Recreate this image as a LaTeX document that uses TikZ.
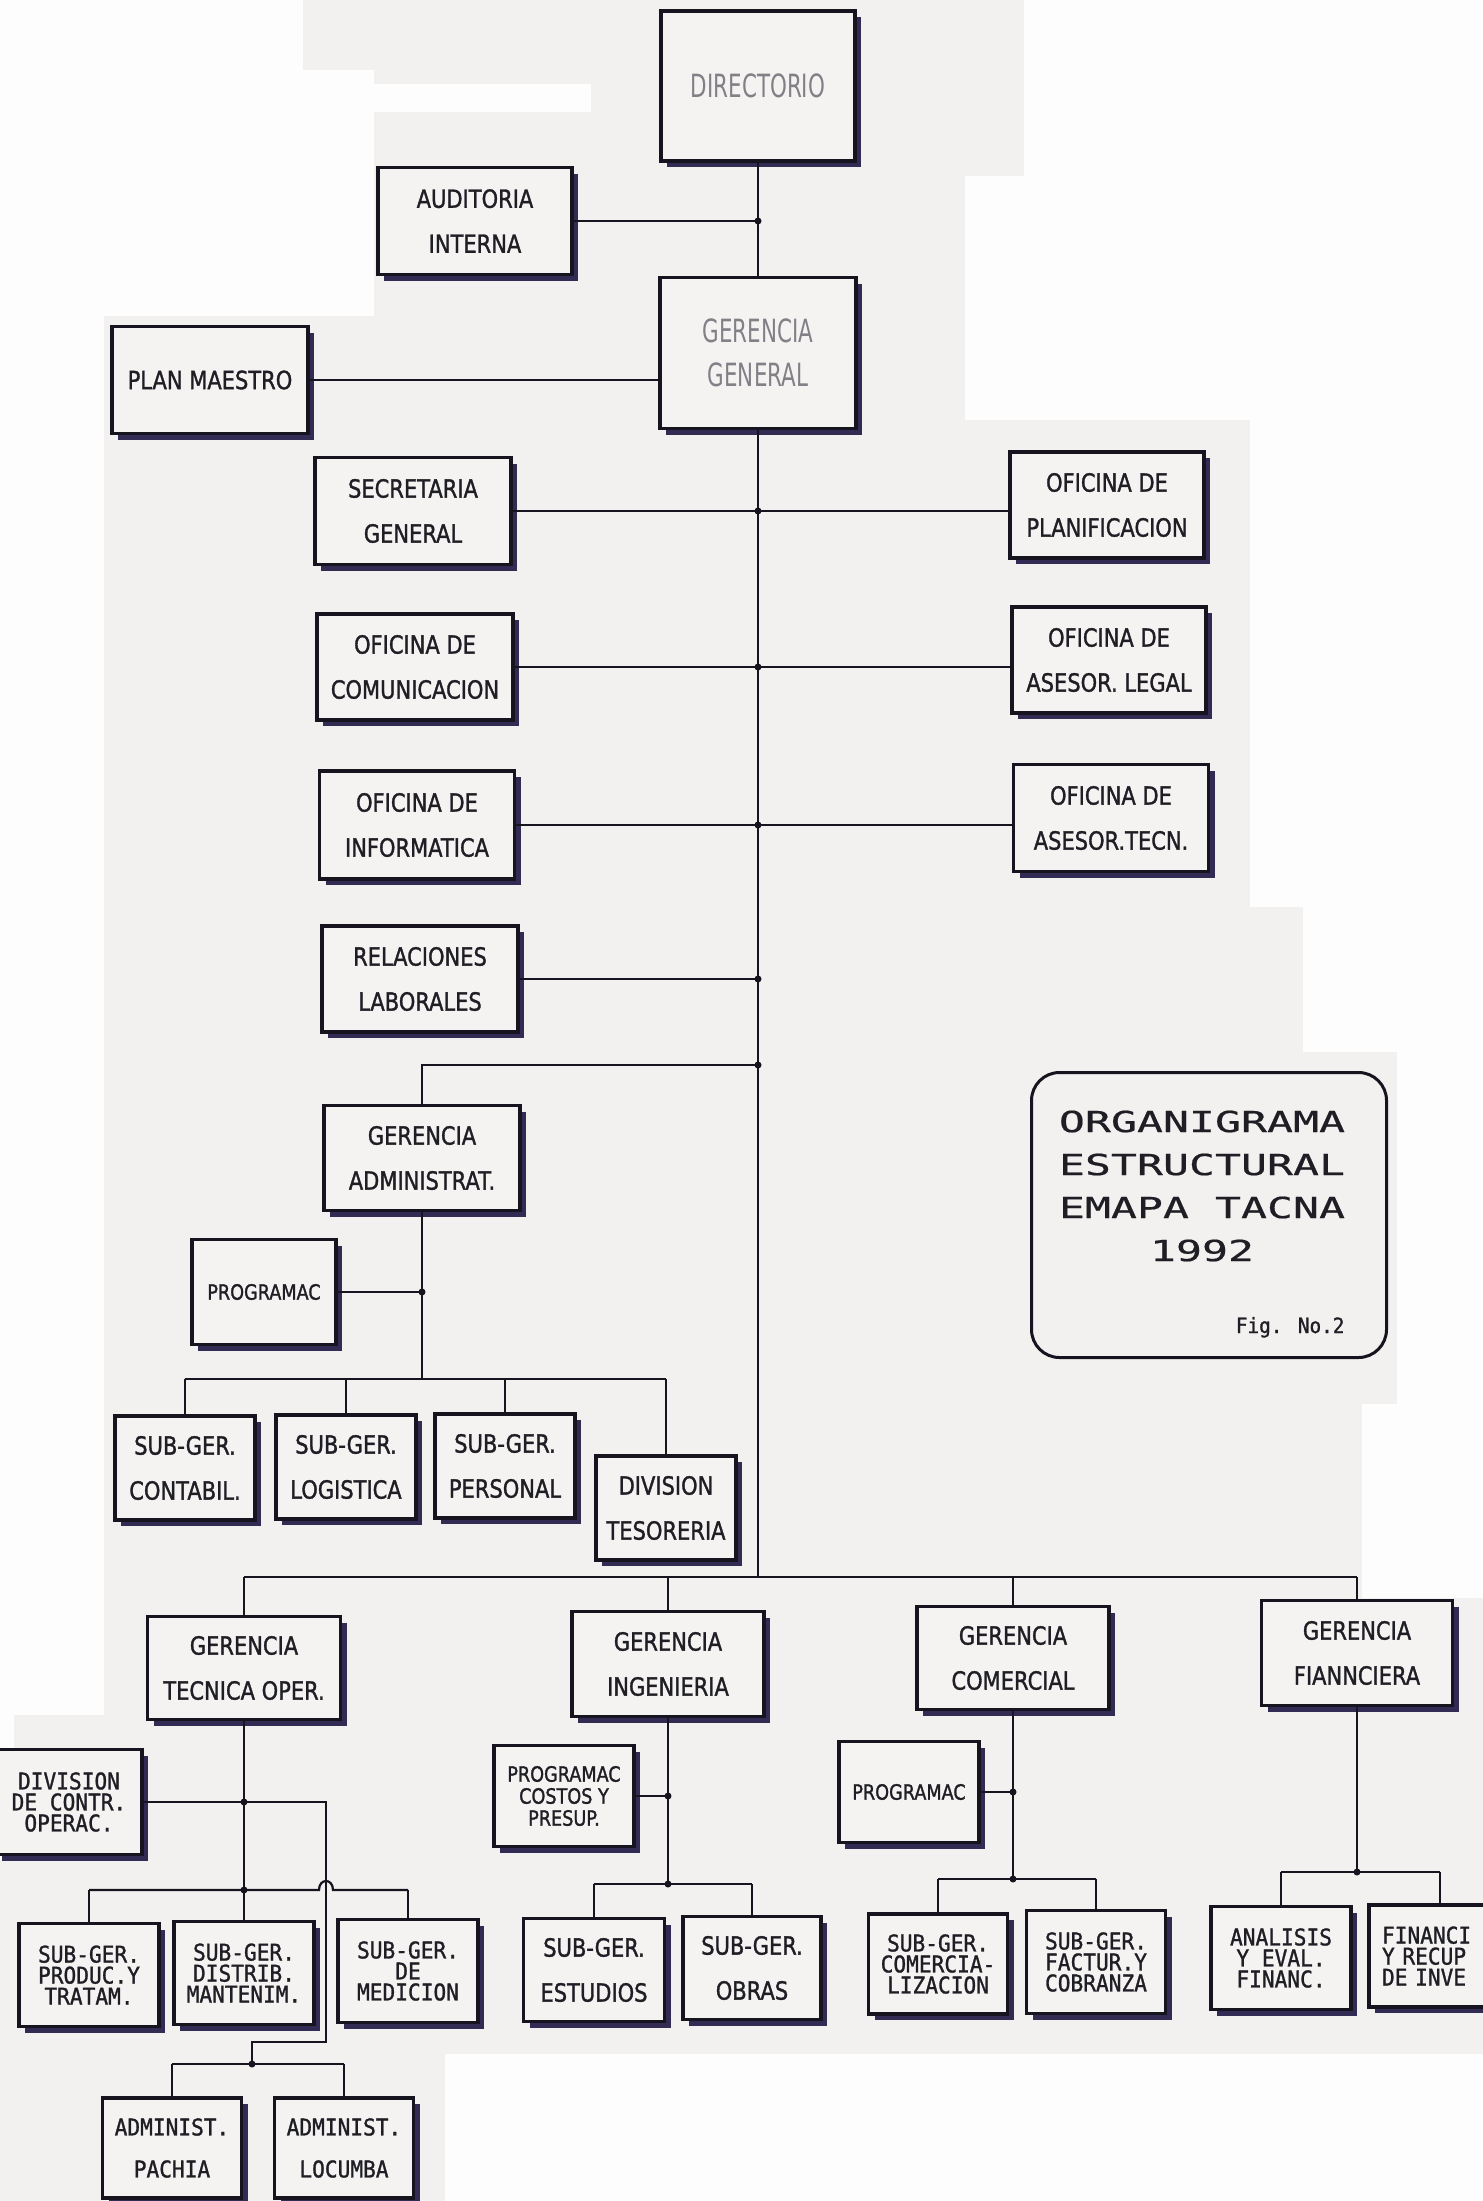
\documentclass[tikz,border=0pt]{standalone}
\usepackage{fontspec}
\setmainfont{DejaVu Sans}
\newfontfamily\cf[FakeStretch=0.84,FakeBold=1.3]{DejaVu Sans}
\newfontfamily\lf[FakeStretch=0.67]{DejaVu Sans}
\newfontfamily\mf[FakeStretch=0.92,FakeBold=1.2]{DejaVu Sans Mono}
\newfontfamily\tf[FakeStretch=1.49,FakeBold=0.6]{DejaVu Sans Mono}
\usetikzlibrary{shadows}
\definecolor{paper}{RGB}{243,241,239}
\definecolor{whitep}{RGB}{253,253,253}
\definecolor{boxfill}{RGB}{245,243,242}
\definecolor{ink}{RGB}{22,20,30}
\definecolor{shade}{RGB}{50,44,84}
\definecolor{txt}{RGB}{30,30,36}
\definecolor{thin}{RGB}{128,128,134}
\begin{document}
\begin{tikzpicture}[x=1pt,y=-1pt,
  box/.style={draw=ink,line width=3.5pt,fill=boxfill,inner sep=0pt,align=center,text=txt,
    drop shadow={shadow xshift=6pt,shadow yshift=-6pt,fill=shade,opacity=1}},
  wh/.style 2 args={minimum width=#1pt,minimum height=#2pt},
  sans/.style={font=\fontsize{25}{45}\selectfont\cf},
  thinf/.style={font=\fontsize{32}{44}\selectfont\lf,text=thin},
  mono/.style={font=\fontsize{23}{21}\selectfont\mf},
  monow/.style={font=\fontsize{23}{42}\selectfont\mf},
  progf/.style={font=\fontsize{21}{22}\selectfont\cf},
  conn/.style={draw=ink,line width=2.2pt},
  dot/.style={circle,fill=ink,inner sep=0pt,minimum size=7pt}]
\useasboundingbox (0,0) rectangle (1483,2201);
\clip (0,0) rectangle (1483,2201);
% paper and white patches
\fill[paper] (0,0) rectangle (1483,2201);
\fill[whitep] (0,0) rectangle (303,70);
\fill[whitep] (0,70) rectangle (374,316);
\fill[whitep] (374,84) rectangle (591,112);
\fill[whitep] (1024,0) rectangle (1483,176);
\fill[whitep] (965,176) rectangle (1483,420);
\fill[whitep] (1250,420) rectangle (1483,907);
\fill[whitep] (1303,907) rectangle (1483,1052);
\fill[whitep] (1397,1052) rectangle (1483,1404);
\fill[whitep] (1362,1404) rectangle (1483,1598);
\fill[whitep] (0,316) rectangle (104,1715);
\fill[whitep] (0,1715) rectangle (14,1860);
\fill[whitep] (445,2054) rectangle (1483,2201);

% upper part
\node[box,thinf,wh={194}{150}] (dir) at (758,86) {DIRECTORIO};
\node[box,sans,wh={194}{107}] (aud) at (475,221) {AUDITORIA\\INTERNA};
\node[box,thinf,wh={196}{151}] (gg) at (758,353) {GERENCIA\\GENERAL};
\node[box,sans,wh={196}{107}] (plan) at (210,380) {PLAN MAESTRO};
\node[box,sans,wh={196}{107}] (sec) at (413,511) {SECRETARIA\\GENERAL};
\node[box,sans,wh={194}{106}] (planif) at (1107,505) {OFICINA DE\\PLANIFICACION};
\node[box,sans,wh={196}{106}] (com) at (415,667) {OFICINA DE\\COMUNICACION};
\node[box,sans,wh={194}{106}] (legal) at (1109,660) {OFICINA DE\\ASESOR. LEGAL};
\node[box,sans,wh={195}{108}] (inf) at (417,825) {OFICINA DE\\INFORMATICA};
\node[box,sans,wh={195}{107}] (tecn) at (1111,818) {OFICINA DE\\ASESOR.TECN.};
\node[box,sans,wh={196}{106}] (rel) at (420,979) {RELACIONES\\LABORALES};
\node[box,sans,wh={196}{105}] (ga) at (422,1158) {GERENCIA\\ADMINISTRAT.};
\node[box,progf,wh={144}{105}] (prog1) at (264,1292) {PROGRAMAC};
\node[box,sans,wh={140}{104}] (cont) at (185,1468) {SUB-GER.\\CONTABIL.};
\node[box,sans,wh={140}{104}] (log) at (346,1467) {SUB-GER.\\LOGISTICA};
\node[box,sans,wh={140}{104}] (pers) at (505,1466) {SUB-GER.\\PERSONAL};
\node[box,sans,wh={140}{104}] (tes) at (666,1508) {DIVISION\\TESORERIA};

% lower part
\node[box,sans,wh={193}{103}] (gto) at (244,1668) {GERENCIA\\TECNICA OPER.};
\node[box,sans,wh={192}{105}] (gi) at (668,1664) {GERENCIA\\INGENIERIA};
\node[box,sans,wh={192}{103}] (gc) at (1013,1658) {GERENCIA\\COMERCIAL};
\node[box,sans,wh={191}{105}] (gf) at (1357,1653) {GERENCIA\\FIANNCIERA};
\node[box,mono,wh={146}{105}] (divc) at (69,1802) {DIVISION\\DE CONTR.\\OPERAC.};
\node[box,mono,wh={140}{103}] (prod) at (89,1975) {SUB-GER.\\PRODUC.Y\\TRATAM.};
\node[box,mono,wh={140}{103}] (dist) at (244,1973) {SUB-GER.\\DISTRIB.\\MANTENIM.};
\node[box,mono,wh={140}{103}] (med) at (408,1971) {SUB-GER.\\DE\\MEDICION};
\node[box,monow,wh={139}{100}] (pach) at (172,2148) {ADMINIST.\\PACHIA};
\node[box,monow,wh={139}{100}] (locu) at (344,2148) {ADMINIST.\\LOCUMBA};
\node[box,progf,wh={140}{101}] (prog2) at (564,1796) {PROGRAMAC\\COSTOS Y\\PRESUP.};
\node[box,sans,wh={141}{103}] (est) at (594,1970) {SUB-GER.\\ESTUDIOS};
\node[box,sans,wh={138}{103}] (obras) at (752,1968) {SUB-GER.\\OBRAS};
\node[box,progf,wh={140}{101}] (prog3) at (909,1792) {PROGRAMAC};
\node[box,mono,wh={139}{100}] (comz) at (938,1964) {SUB-GER.\\COMERCIA-\\LIZACION};
\node[box,mono,wh={139}{103}] (fact) at (1096,1962) {SUB-GER.\\FACTUR.Y\\COBRANZA};
\node[box,mono,wh={140}{103}] (anal) at (1281,1958) {ANALISIS\\Y EVAL.\\FINANC.};
\node[box,mono,wh={160}{102},text width=134pt,align=left] (finr) at (1449,1956) {FINANCI\\Y RECUP\\DE INVE};

% title
\node[draw=ink,line width=3pt,rounded corners=28pt,wh={355}{285}] (title) at (1209,1215) {};
\node[font=\fontsize{29}{43}\selectfont\tf,text=txt,align=center] (tt) at (1202,1186) {ORGANIGRAMA\\ESTRUCTURAL\\EMAPA TACNA\\1992};
\node[font=\fontsize{21}{21}\selectfont\mf,text=txt,anchor=base east] (fig) at (1348,1333) {Fig. No.2};

% coordinates
\coordinate (lb) at (758,1577);
\coordinate (gaj) at (758,1065);
\coordinate (ab) at (422,1379);
\coordinate (tk) at (326,2042);
\coordinate (tl) at (252,2042);
\coordinate (ab2) at (252,2064);
\coordinate (sb) at (244,1890);
\coordinate (ib) at (668,1884);
\coordinate (cb) at (1013,1879);
\coordinate (fb) at (1357,1872);
\coordinate (fd) at (1440,1872);

% connectors upper
\draw[conn] (dir.south) -- (gg.north);
\draw[conn] (aud.east) -- (aud.east -| dir.south) node[dot] (j1) {};
\draw[conn] (plan.east) -- (plan.east -| gg.west);
\draw[conn] (gg.south) -- (lb);
\draw[conn] (sec.east) -- (sec.east -| planif.west);
\node[dot] (j2) at (sec.east -| gg.south) {};
\draw[conn] (com.east) -- (com.east -| legal.west);
\node[dot] (j3) at (com.east -| gg.south) {};
\draw[conn] (inf.east) -- (inf.east -| tecn.west);
\node[dot] (j4) at (inf.east -| gg.south) {};
\draw[conn] (rel.east) -- (rel.east -| gg.south) node[dot] (j5) {};
\draw[conn] (gaj) -- (gaj -| ga.north) -- (ga.north);
\node[dot] (j6) at (gaj) {};
\draw[conn] (ga.south) -- (ab);
\draw[conn] (prog1.east) -- (prog1.east -| ga.south) node[dot] (j7) {};
\draw[conn] (ab -| cont.north) -- (ab -| tes.north);
\foreach \n in {cont,log,pers,tes} \draw[conn] (ab -| \n.north) -- (\n.north);

% connectors lower
\draw[conn] (lb -| gto.north) -- (lb -| gf.north);
\foreach \n in {gto,gi,gc,gf} \draw[conn] (lb -| \n.north) -- (\n.north);
\draw[conn] (gto.south) -- (dist.north);
\draw[conn] (divc.east) -- (divc.east -| tk) -- (tk) -- (tl) -- (ab2);
\node[dot] (j8) at (divc.east -| gto.south) {};
\node[dot] (j9) at (sb) {};
\node[dot] (j10) at (ab2) {};
\draw[conn] (sb -| prod.north) -- (319,1890) .. controls (319,1878) and (333,1878) .. (333,1890) -- (sb -| med.north);
\draw[conn] (sb -| prod.north) -- (prod.north);
\draw[conn] (sb -| med.north) -- (med.north);
\draw[conn] (ab2 -| pach.north) -- (ab2 -| locu.north);
\draw[conn] (ab2 -| pach.north) -- (pach.north);
\draw[conn] (ab2 -| locu.north) -- (locu.north);

\draw[conn] (gi.south) -- (ib);
\draw[conn] (prog2.east) -- (prog2.east -| gi.south) node[dot] (j11) {};
\draw[conn] (ib -| est.north) -- (ib -| obras.north);
\draw[conn] (ib -| est.north) -- (est.north);
\draw[conn] (ib -| obras.north) -- (obras.north);
\node[dot] (j12) at (ib) {};

\draw[conn] (gc.south) -- (cb);
\draw[conn] (prog3.east) -- (prog3.east -| gc.south) node[dot] (j13) {};
\draw[conn] (cb -| comz.north) -- (cb -| fact.north);
\draw[conn] (cb -| comz.north) -- (comz.north);
\draw[conn] (cb -| fact.north) -- (fact.north);
\node[dot] (j14) at (cb) {};

\draw[conn] (gf.south) -- (fb);
\draw[conn] (fb -| anal.north) -- (fd);
\draw[conn] (fb -| anal.north) -- (anal.north);
\draw[conn] (fd) -- (fd |- finr.north);
\node[dot] (j15) at (fb) {};
\end{tikzpicture}
\end{document}
